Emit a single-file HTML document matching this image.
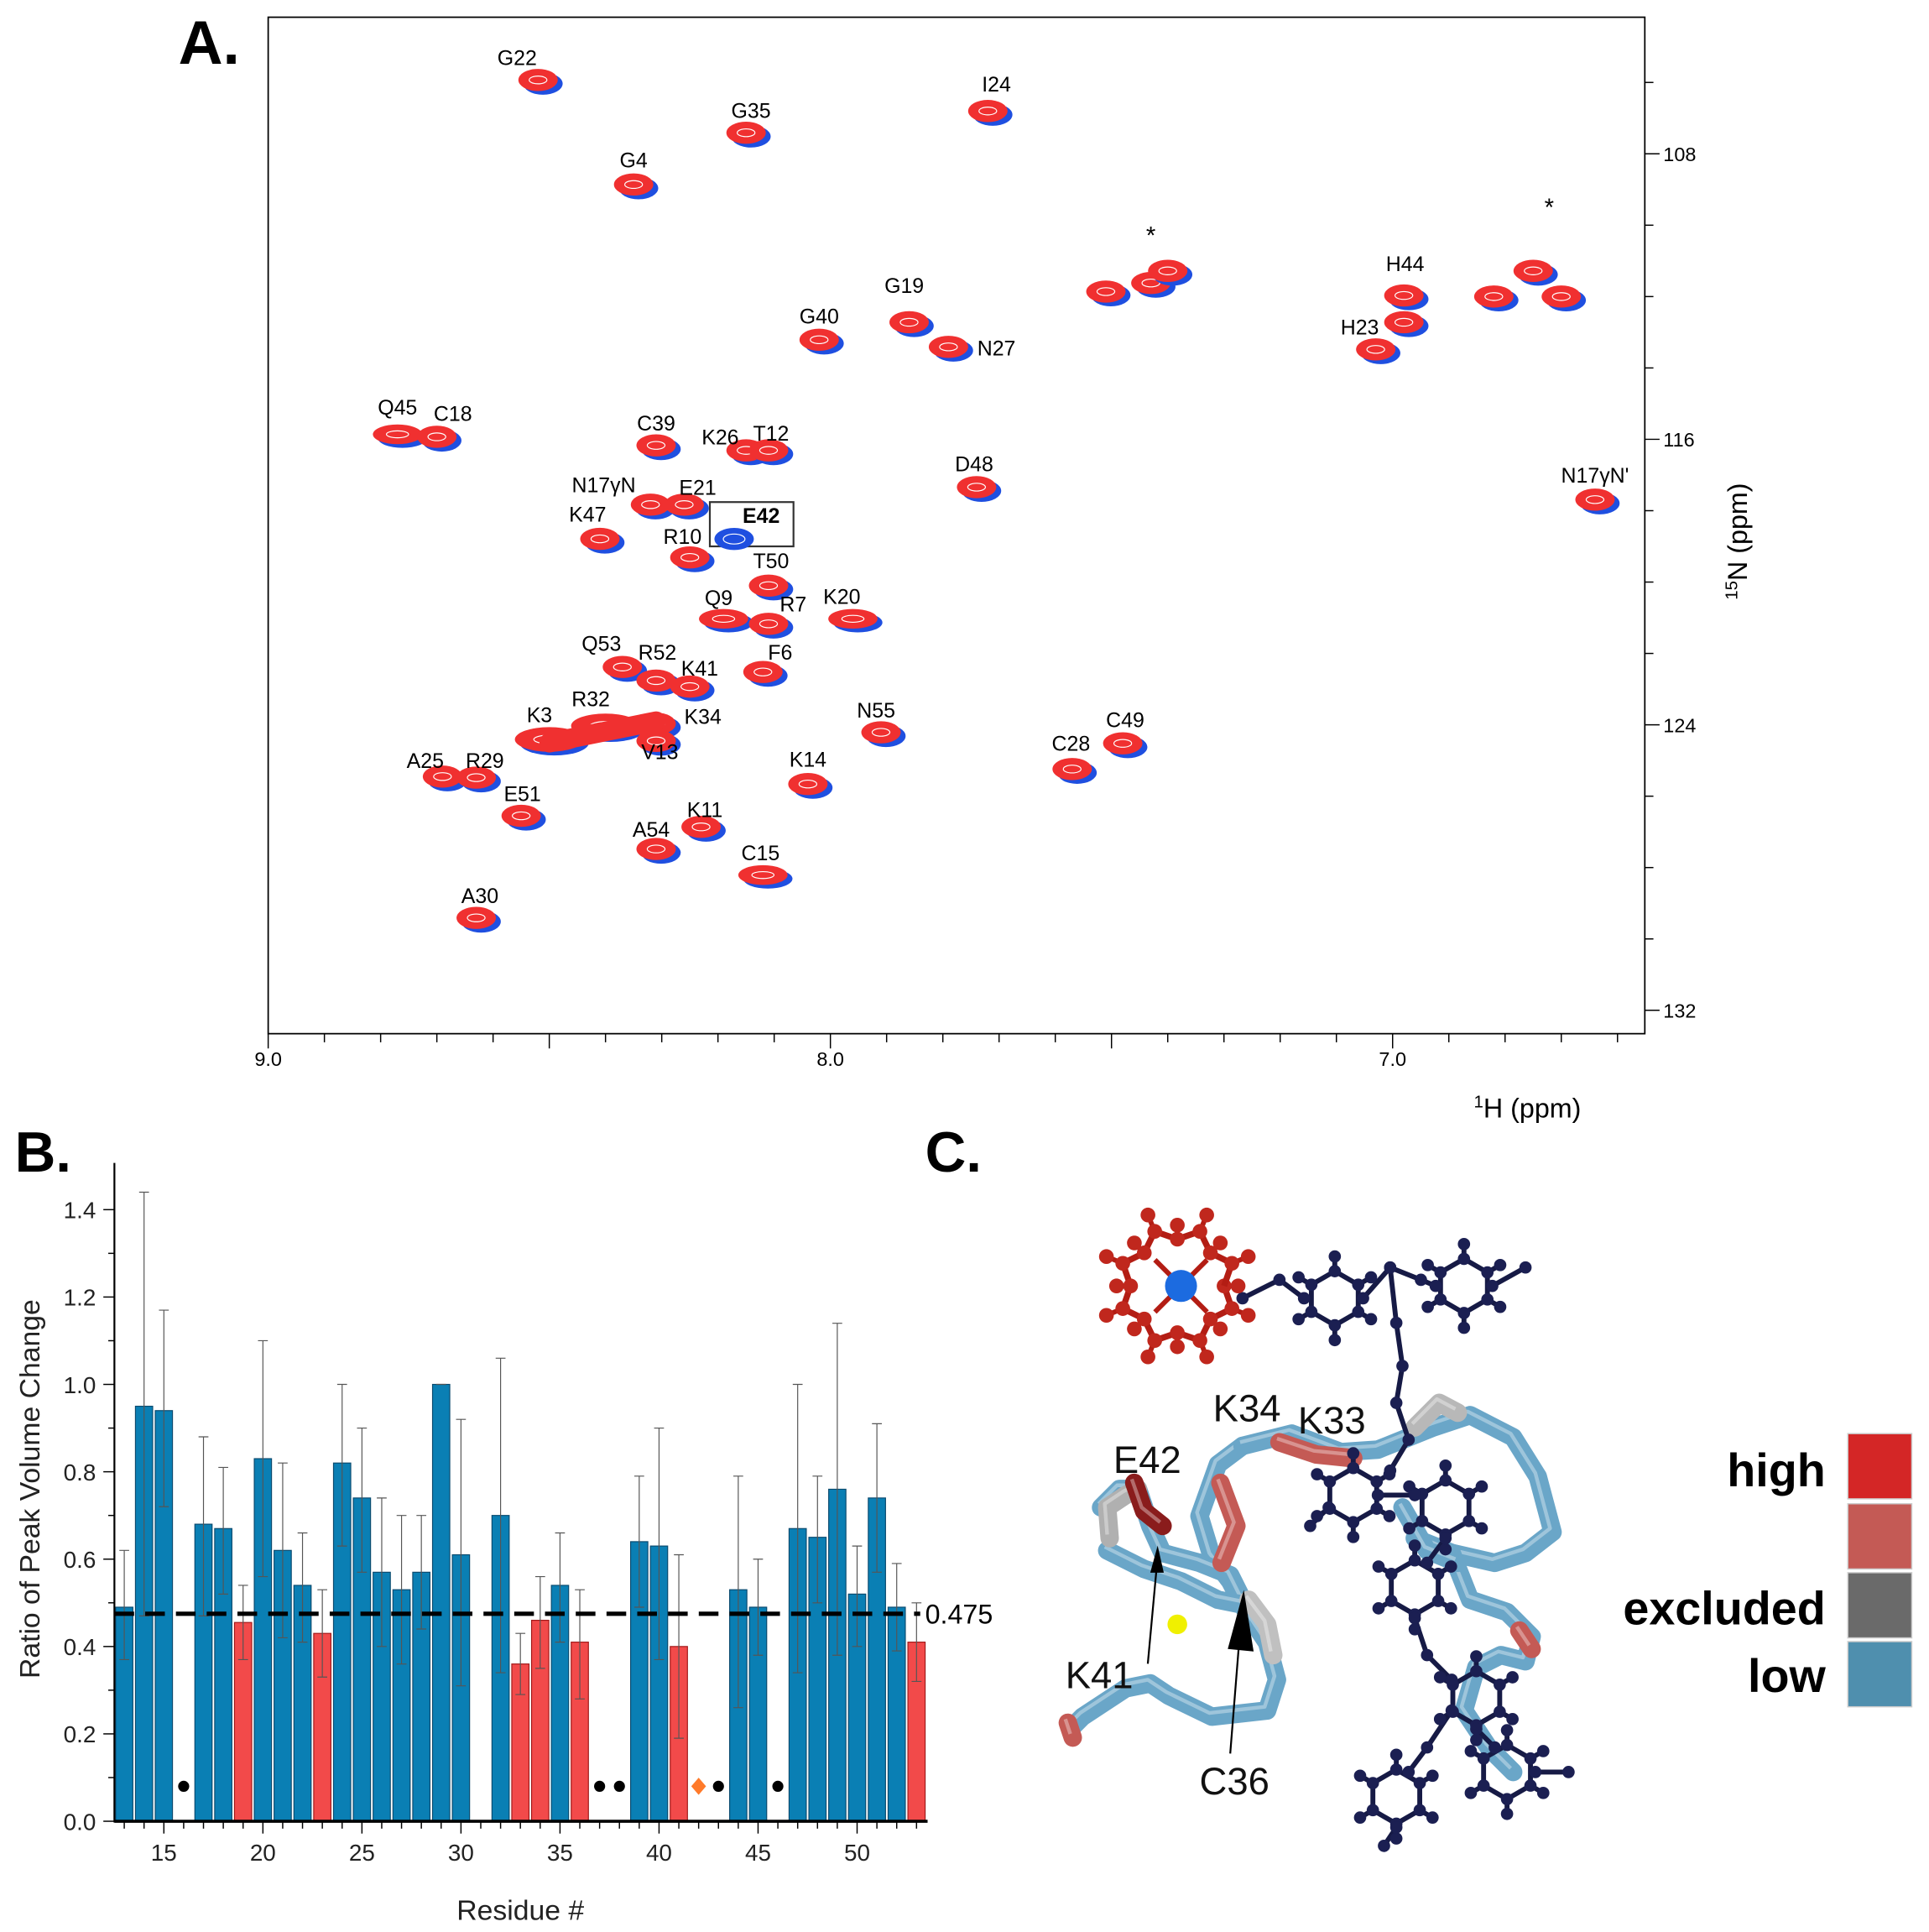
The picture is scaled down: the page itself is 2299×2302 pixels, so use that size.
<!DOCTYPE html>
<html><head><meta charset="utf-8"><style>
html,body{margin:0;padding:0;background:#fff;}
svg{display:block;}
text{font-family:"Liberation Sans",Arial,sans-serif;}
</style></head><body>
<svg id="fig" width="2299" height="2302" viewBox="0 0 1568 1570" preserveAspectRatio="none" xmlns="http://www.w3.org/2000/svg">
<rect width="1568" height="1570" fill="#fff"/>
<g id="panelA"></g>
<g id="panelB"></g>
<g id="panelC"></g>
</svg>
<script>
// ===== Panel A data (HSQC peaks) =====
const peakNames=["G22","I24","G35","G4","G19","H44","","G40","N27","H23","Q45","C18","C39","K26","T12","D48","N17γN","E21","K47","E42","R10","N17γN'","T50","Q9","R7","K20","Q53","R52","K41","F6","K3","R32","K34","V13","N55","C49","C28","A25","R29","K14","E51","K11","A54","C15","A30","*","","","*","",""];
const peakH=[8.52,7.72,8.15,8.35,7.86,6.98,6.98,8.02,7.79,7.03,8.77,8.70,8.31,8.15,8.11,7.74,8.32,8.26,8.41,8.18,8.25,6.64,8.11,8.19,8.11,7.96,8.37,8.31,8.25,8.12,8.50,8.40,8.31,8.31,7.91,7.48,7.57,8.69,8.63,8.04,8.55,8.23,8.31,8.12,8.63,7.43,7.51,7.40,6.75,6.82,6.70];
const peakN=[105.93,106.8,107.41,108.86,112.72,111.97,112.72,113.21,113.41,113.48,115.86,115.93,116.17,116.31,116.31,117.34,117.83,117.83,118.79,118.69,119.31,117.69,120.1,121.03,121.17,121.03,122.38,122.76,122.93,122.52,124.41,124.03,123.97,124.45,124.21,124.52,125.24,125.45,125.48,125.66,126.55,126.86,127.48,128.21,129.41,111.62,111.86,111.28,111.28,112.0,112.0];
const peakBlueOnly=[19];
const xTicksA=[9.0,8.0,7.0];
const yTicksA=[108,116,124,132];
// label offsets (display px, style only)
const labOff=[[-17,-12],[7,-16],[4,-12],[0,-14],[-4,-24],[1,-20],[0,0],[0,-13],[39,7],[-13,-12],[0,-16],[13,-13],[0,-12],[-21,-5],[2,-8],[-2,-13],[-38,-10],[11,-8],[-10,-14],[26,-10],[-6,-11],[0,-14],[2,-14],[-4,-11],[20,-10],[-9,-12],[-17,-13],[1,-17],[8,-9],[14,-10],[-8,-14],[-12,-16],[38,0],[3,15],[-4,-12],[2,-13],[-1,-15],[-14,-7],[7,-8],[0,-14],[1,-12],[3,-8],[-4,-10],[-2,-12],[3,-12],[0,-32],[0,0],[0,0],[13,-45],[0,0],[0,0]];

// ===== Panel B data =====
const residues=[13,14,15,17,18,19,20,21,22,23,24,25,26,27,28,29,30,32,33,34,35,36,39,40,41,44,45,47,48,49,50,51,52,53];
const ratio=[0.49,0.95,0.94,0.68,0.67,0.455,0.83,0.62,0.54,0.43,0.82,0.74,0.57,0.53,0.57,1.00,0.61,0.70,0.36,0.46,0.54,0.41,0.64,0.63,0.40,0.53,0.49,0.67,0.65,0.76,0.52,0.74,0.49,0.41];
const errLow=[0.37,0.47,0.72,0.47,0.52,0.37,0.56,0.42,0.41,0.33,0.63,0.57,0.40,0.36,0.44,1.00,0.31,0.34,0.29,0.35,0.41,0.28,0.49,0.37,0.19,0.26,0.38,0.34,0.50,0.38,0.40,0.57,0.39,0.32];
const errHigh=[0.62,1.44,1.17,0.88,0.81,0.54,1.10,0.82,0.66,0.53,1.00,0.90,0.74,0.70,0.70,1.00,0.92,1.06,0.43,0.56,0.66,0.53,0.79,0.90,0.61,0.79,0.60,1.00,0.79,1.14,0.63,0.91,0.59,0.50];
const missingRes=[16,37,38,43,46];
const diamondRes=[42];
const threshold=0.475;
const xTicksB=[15,20,25,30,35,40,45,50];
const yTicksB=[0.0,0.2,0.4,0.6,0.8,1.0,1.2,1.4];

const NS="http://www.w3.org/2000/svg";
function mk(parent,tag,attrs,text){const e=document.createElementNS(NS,tag);for(const k in attrs)e.setAttribute(k,attrs[k]);if(text!==undefined)e.textContent=text;parent.appendChild(e);return e;}

// ===== Panel A =====
const A=document.getElementById('panelA');
const ax=h=>218+(9-h)*457;
const ay=n=>125+(n-108)*29;
let t=mk(A,'text',{x:145,y:52,'font-size':50,'font-weight':'bold'},'A.');

let fr=mk(A,'rect',{x:218,y:14,width:1119,height:826,fill:'none',stroke:'#000','stroke-width':1.2});

for(let h=9.0;h>=6.6;h-=0.1){const x=ax(h);const major=Math.abs(h*2-Math.round(h*2))<0.01;
 const l=mk(A,'line',{x1:x,x2:x,y1:840,y2:major?852:847,stroke:'#000','stroke-width':1});
 }
xTicksA.forEach(v=>{const e=mk(A,'text',{x:ax(v),y:866,'font-size':16,'text-anchor':'middle'},v.toFixed(1));
 });
for(let n=106;n<=132;n+=2){const y=ay(n);const major=(n%8===4);
 const l=mk(A,'line',{x1:1337,x2:major?1349:1344,y1:y,y2:y,stroke:'#000','stroke-width':1});
 }
yTicksA.forEach(v=>{const e=mk(A,'text',{x:1352,y:ay(v)+6,'font-size':16},String(v));
 });
t=mk(A,'text',{x:1198,y:908,'font-size':22});t.innerHTML='<tspan font-size="14" dy="-8">1</tspan><tspan dy="8">H (ppm)</tspan>';

t=mk(A,'text',{x:1420,y:440,'font-size':22,'text-anchor':'middle',transform:'rotate(-90 1420 440)'});t.innerHTML='<tspan font-size="14" dy="-8">15</tspan><tspan dy="8">N (ppm)</tspan>';

let bx=mk(A,'rect',{x:577,y:408,width:68,height:36,fill:'none',stroke:'#333','stroke-width':1.5});

peakH.forEach((h,i)=>{
 const x=ax(h),y=ay(peakN[i]);
 const g=mk(A,'g',{});
 
 
 let rx=16,ry=9;
 if(["K3","R32"].includes(peakNames[i])){rx=28;ry=10;}
 if(["Q45","K20","C15","Q9"].includes(peakNames[i])){rx=20;ry=8;}
 mk(g,'ellipse',{cx:x+4,cy:y+3,rx:rx,ry:ry,fill:'#1f4fe0'});
 if(!peakBlueOnly.includes(i)){
  mk(g,'ellipse',{cx:x,cy:y,rx:rx,ry:ry,fill:'#f03030'});
  mk(g,'ellipse',{cx:x,cy:y,rx:rx*0.45,ry:ry*0.35,fill:'none',stroke:'#fff','stroke-width':0.8});
 } else {
  mk(g,'ellipse',{cx:x+4,cy:y+3,rx:rx*0.55,ry:ry*0.45,fill:'none',stroke:'#fff','stroke-width':0.8});
 }
 if(peakNames[i]){
  const o=labOff[i];
  const lt=mk(A,'text',{x:x+o[0],y:y+o[1],'font-size':peakNames[i]==='*'?20:17,'text-anchor':'middle','font-weight':peakNames[i]==='E42'?'bold':'normal'},peakNames[i]);
  
 }
});
let rg=mk(A,'path',{d:`M${ax(8.50)},${ay(124.5)} L${ax(8.31)},${ay(123.9)}`,stroke:'#f03030','stroke-width':16,'stroke-linecap':'round'});


// ===== Panel B =====
const B=document.getElementById('panelB');
const bxf=r=>101+(r-13)*16.1;
const byf=v=>1480-v*355;
t=mk(B,'text',{x:12,y:952,'font-size':46,'font-weight':'bold'},'B.');

residues.forEach((r,i)=>{
 const red=ratio[i]<threshold;
 const x=bxf(r),w=14;
 const bar=mk(B,'rect',{x:x-w/2,y:byf(ratio[i]),width:w,height:byf(0)-byf(ratio[i]),fill:red?'#f24a4a':'#0a7fb4',stroke:red?'#a01818':'#0b4a6e','stroke-width':0.8});
 
 const e=mk(B,'path',{d:`M${x},${byf(errLow[i])}V${byf(errHigh[i])}M${x-4},${byf(errHigh[i])}H${x+4}M${x-4},${byf(errLow[i])}H${x+4}`,stroke:'#555','stroke-width':0.8,fill:'none'});
 
});
missingRes.forEach(r=>{const d=mk(B,'circle',{cx:bxf(r),cy:byf(0.08),r:4.5,fill:'#000'});
 });
diamondRes.forEach(r=>{const d=mk(B,'path',{d:`M${bxf(r)},${byf(0.08)-7}l6,7l-6,7l-6,-7z`,fill:'#ff7a2a'});
 });
let th=mk(B,'line',{x1:93,x2:748,y1:byf(threshold),y2:byf(threshold),stroke:'#000','stroke-width':3.5,'stroke-dasharray':'16,9'});

t=mk(B,'text',{x:752,y:byf(threshold)+8,'font-size':22},String(threshold));

mk(B,'line',{x1:93,x2:93,y1:945,y2:1481,stroke:'#000','stroke-width':1.5});
mk(B,'line',{x1:93,x2:754,y1:1480,y2:1480,stroke:'#000','stroke-width':2.5});
for(let v=0;v<=1.45;v+=0.1){const y=byf(v);const mj=Math.round(v*10)%2===0;
 mk(B,'line',{x1:93,x2:mj?84:88,y1:y,y2:y,stroke:'#000','stroke-width':1});}
yTicksB.forEach(v=>{const e=mk(B,'text',{x:78,y:byf(v)+7,'font-size':19,'text-anchor':'end',fill:'#222'},v.toFixed(1));
 });
for(let r=13;r<=53;r++){const x=bxf(r);mk(B,'line',{x1:x,x2:x,y1:1480,y2:r%5===0?1490:1486,stroke:'#000','stroke-width':1});}
xTicksB.forEach(v=>{const e=mk(B,'text',{x:bxf(v),y:1512,'font-size':19,'text-anchor':'middle',fill:'#222'},String(v));
 });
t=mk(B,'text',{x:423,y:1560,'font-size':23,'text-anchor':'middle',fill:'#222'},'Residue #');

t=mk(B,'text',{x:32,y:1210,'font-size':23,'text-anchor':'middle',fill:'#222',transform:'rotate(-90 32 1210)'},'Ratio of Peak Volume Change');


// ===== Panel C (structure illustration) =====
const C=document.getElementById('panelC');
t=mk(C,'text',{x:752,y:952,'font-size':46,'font-weight':'bold'},'C.');

function tube(pts,color){const p=mk(C,'polyline',{points:pts.map(q=>q.join(',')).join(' '),fill:'none',stroke:color,'stroke-width':15,'stroke-linejoin':'round','stroke-linecap':'round'});
 mk(C,'polyline',{points:pts.map(q=>(q[0]-2)+','+(q[1]-3)).join(' '),fill:'none',stroke:'rgba(255,255,255,0.35)','stroke-width':3,'stroke-linejoin':'round'});return p;}
const blue='#6aa6c8';
tube([[870,1405],[880,1395],[915,1372],[935,1368],[950,1378],[985,1395],[1030,1390],[1038,1365],[1030,1335],[1012,1308],[1000,1285],[985,1265],[975,1232],[990,1190],[1010,1175]],blue);
tube([[895,1225],[910,1210],[925,1210],[935,1240],[945,1262],[975,1270],[1000,1280],[1010,1300]],blue);
tube([[900,1260],[930,1275],[960,1285],[990,1300],[1015,1305]],blue);
tube([[1010,1175],[1050,1165],[1090,1180],[1120,1178],[1140,1170],[1165,1160],[1195,1150],[1230,1168],[1250,1200],[1262,1245],[1240,1262],[1215,1270],[1180,1262],[1150,1250]],blue);
tube([[1180,1262],[1195,1300],[1225,1310],[1245,1330],[1240,1350],[1220,1345],[1200,1355],[1190,1390],[1210,1420],[1230,1440]],blue);
tube([[1140,1225],[1160,1260],[1185,1270]],blue);
tube([[1040,1172],[1070,1182],[1100,1185]],'#c45a55');
tube([[993,1270],[1005,1240],[992,1205]],'#c45a55');
tube([[925,1210],[915,1215],[900,1225],[902,1250]],'#b0b0b0');
tube([[922,1205],[930,1228],[945,1240]],'#8a1c1c');
tube([[1015,1300],[1030,1320],[1035,1345]],'#c0c0c0');
tube([[1150,1160],[1170,1140],[1185,1148]],'#b8b8b8');
tube([[1235,1325],[1245,1340]],'#c45a55');
tube([[868,1400],[872,1412]],'#c45a55');
// dark navy ball-and-stick ligand: rings + chains (illustrative)
const ringCenters=[[1085,1055],[1190,1045],[1100,1215],[1175,1225],[1150,1290],[1225,1440],[1135,1460],[1200,1380]];
const chains=[
 [[1010,1055],[1040,1040],[1060,1055]],
 [[1108,1055],[1130,1030],[1155,1040],[1167,1045]],
 [[1130,1030],[1135,1075],[1140,1110],[1135,1140],[1145,1170],[1130,1195]],
 [[1120,1215],[1150,1215]],
 [[1175,1250],[1160,1270]],
 [[1150,1315],[1160,1345],[1180,1365]],
 [[1200,1405],[1215,1420]],
 [[1180,1390],[1160,1420],[1145,1440]],
 [[1135,1485],[1125,1500]],
 [[1248,1440],[1275,1440]],
 [[1213,1045],[1240,1030]],
 [[1065,1240],[1080,1225]]
];
function ball(x,y){mk(C,'circle',{cx:x,cy:y,r:5,fill:'#1b1f52'});}
function stick(a,b){mk(C,'line',{x1:a[0],y1:a[1],x2:b[0],y2:b[1],stroke:'#161a45','stroke-width':4});}
chains.forEach(ch=>{for(let i=0;i<ch.length-1;i++)stick(ch[i],ch[i+1]);});
ringCenters.forEach(c=>{const pts=[];for(let k=0;k<6;k++){const a=k*Math.PI/3+Math.PI/6;pts.push([c[0]+22*Math.cos(a),c[1]+22*Math.sin(a)]);}
 for(let k=0;k<6;k++){stick(pts[k],pts[(k+1)%6]);const o=[c[0]+34*Math.cos(k*Math.PI/3+Math.PI/6),c[1]+34*Math.sin(k*Math.PI/3+Math.PI/6)];stick(pts[k],o);ball(o[0],o[1]);}
 pts.forEach(p=>ball(p[0],p[1]));});
chains.forEach(ch=>ch.forEach(p=>ball(p[0],p[1])));
// red porphyrin
const por=[];for(let k=0;k<16;k++){const a=k*Math.PI/8;const rr=k%2?48:38;por.push([957+rr*Math.cos(a),1045+rr*Math.sin(a)]);}
for(let k=0;k<16;k++){const p=por[k],q=por[(k+1)%16];mk(C,'line',{x1:p[0],y1:p[1],x2:q[0],y2:q[1],stroke:'#b31d14','stroke-width':5});
 const o=[957+(p[0]-957)*1.3,1045+(p[1]-1045)*1.3];mk(C,'line',{x1:p[0],y1:p[1],x2:o[0],y2:o[1],stroke:'#b31d14','stroke-width':4});
 mk(C,'circle',{cx:o[0],cy:o[1],r:6,fill:'#c0271d'});mk(C,'circle',{cx:p[0],cy:p[1],r:6,fill:'#c0271d'});}
for(let k=0;k<4;k++){const a=k*Math.PI/2+Math.PI/4;mk(C,'line',{x1:960,y1:1045,x2:960+30*Math.cos(a),y2:1045+30*Math.sin(a),stroke:'#b31d14','stroke-width':4});}
mk(C,'circle',{cx:960,cy:1045,r:13,fill:'#1c6be0'});
mk(C,'circle',{cx:957,cy:1320,r:8,fill:'#f0f000'});
// arrows
mk(C,'path',{d:'M933,1352 L941,1265',stroke:'#000','stroke-width':1.5,fill:'none'});
mk(C,'path',{d:'M935,1278 l6,-22 l5,22z',fill:'#000'});
mk(C,'path',{d:'M1000,1425 L1010,1300',stroke:'#000','stroke-width':1.5,fill:'none'});
mk(C,'path',{d:'M998,1340 l13,-48 l8,50z',fill:'#000'});
[["E42",905,1197],["K34",986,1155],["K33",1055,1165],["K41",866,1372],["C36",975,1458]].forEach(s=>{
 const e=mk(C,'text',{x:s[1],y:s[2],'font-size':31,fill:'#111'},s[0]);
 });
// legend
[["high",'#d42626',1165,1195],["",'#c45a55',1222,0],["excluded",'#6a6a6a',1278,1307],["low",'#4f8fae',1334,1362]].forEach(s=>{
 const r=mk(C,'rect',{x:1502,y:s[2],width:52,height:53,fill:s[1],stroke:'#ccc','stroke-width':1});
 
 if(s[0]){const e=mk(C,'text',{x:1484,y:s[3]+13,'font-size':38,'font-weight':'bold','text-anchor':'end'},s[0]);
 }
});
</script>
</body></html>
